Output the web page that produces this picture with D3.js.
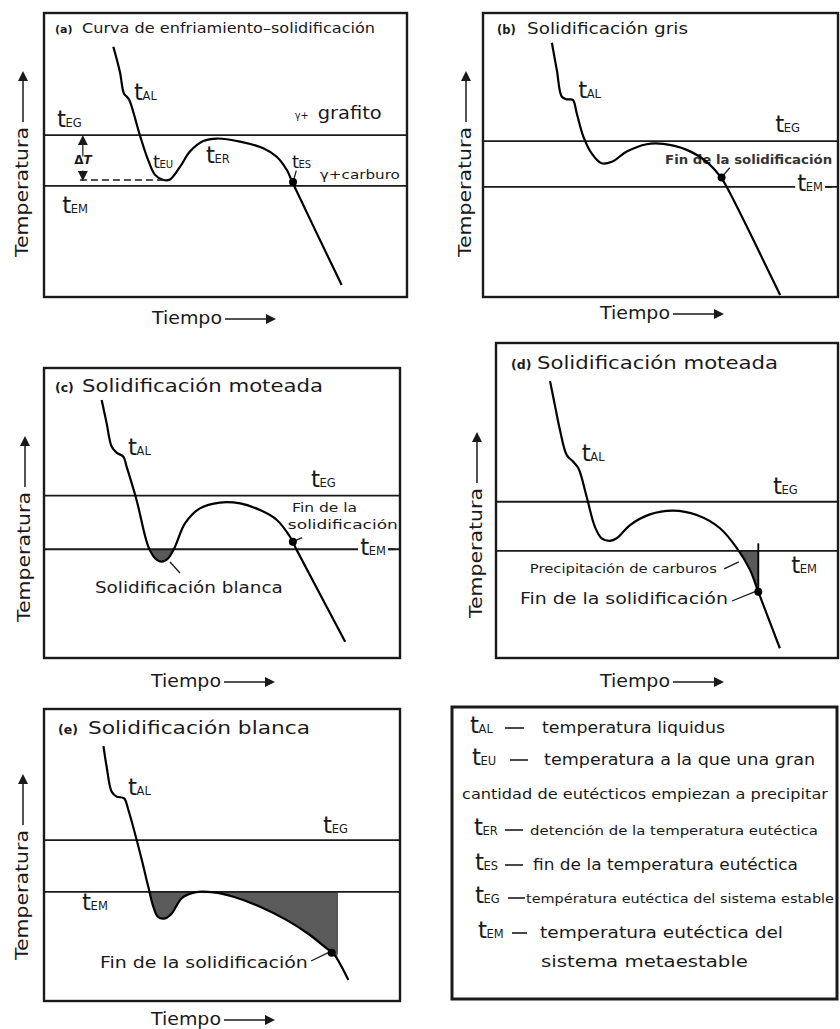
<!DOCTYPE html>
<html>
<head>
<meta charset="utf-8">
<script src="https://cdn.jsdelivr.net/npm/d3@7/dist/d3.min.js"></script>
<style>
body { margin: 0; background: #fff; }
svg { display: block; font-family: "DejaVu Sans", sans-serif; }
</style>
</head>
<body>
<svg id="chart" width="840" height="1029"></svg>
<script>
// cooling curves, [tiempo, temperatura] on a 0-100 scale per panel
const curveA = [[19.1,88.1],[20.9,79.3],[22.0,71.7],[22.8,70.5],[23.5,69.4],[26.4,57.0],[28.7,48.2],[30.6,43.0],
  [32.9,41.2],[34.7,41.4],[37.5,45.9],[40.2,51.2],[43.9,54.9],[47.6,55.8],[54.0,54.7],[60.4,52.4],
  [64.1,49.4],[66.9,44.7],[68.5,40.2],[82.0,4.2]];
const curveB = [[19.4,89.5],[20.8,79.9],[22.2,70.5],[23.6,69.6],[25.3,69.4],[26.4,64.7],[28.3,56.4],[30.6,50.6],
  [33.4,47.1],[36.3,47.6],[40.5,51.2],[46.1,53.8],[50.8,53.9],[57.4,51.8],[63.0,47.6],[67.2,41.8],
  [69.6,36.5],[83.7,0.7]];
const curveC = [[16.2,89.0],[17.6,80.9],[19.0,72.9],[20.4,70.8],[22.3,69.4],[23.2,66.0],[26.0,54.5],[29.3,38.4],
  [31.2,34.4],[33.1,33.2],[34.9,34.4],[36.8,38.4],[39.6,46.4],[43.8,51.6],[49.4,53.6],[55.1,53.3],
  [60.7,51.0],[65.4,47.6],[69.1,41.8],[71.0,37.2],[84.6,5.6]];
const curveD = [[15.8,87.9],[17.3,79.8],[18.7,72.4],[20.7,64.4],[22.6,62.3],[24.1,60.2],[26.5,51.2],[28.9,41.7],
  [30.9,38.0],[33.3,37.2],[35.3,38.0],[39.2,42.2],[45.0,45.6],[51.8,46.8],[58.7,45.4],[65.5,41.2],
  [70.8,34.3],[74.3,27.9],[76.7,21.0],[83.0,3.1]];
const curveE = [[16.7,87.3],[17.6,80.2],[19.0,71.7],[20.4,70.0],[22.5,69.4],[23.7,65.4],[27.0,50.6],[29.3,39.1],
  [30.7,32.3],[32.1,28.7],[34.0,28.3],[35.9,30.0],[38.7,35.2],[42.4,37.2],[47.6,37.2],[53.2,35.7],
  [60.7,32.3],[68.2,27.7],[74.7,22.6],[79.4,18.0],[81.3,16.3],[85.5,7.2]];

// eutectic levels per panel (a..e)
const levelEG = [57.0, 54.9, 56.0, 49.6, 55.1];
const levelEM = [39.1, 38.8, 37.5, 34.0, 37.4];
// end of solidification points
const endPoints = [[68.6,40.5],[67.2,42.1],[69.9,40.1],[76.7,21.0],[80.8,16.5]];
// shaded (white solidification / carbide) time ranges
const shadeRanges = [null, null, [28, 38], [68, 76.7], [28, 82.4]];

const panelLetters = ["(a)", "(b)", "(c)", "(d)", "(e)"];
const panelTitles = ["Curva de enfriamiento\u2013solidificación", "Solidificación gris",
  "Solidificación moteada", "Solidificación moteada", "Solidificación blanca"];

const legendSubs = ["AL", "EU", null, "ER", "ES", "EG", "EM", null];
const legendTexts = ["temperatura liquidus", "temperatura a la que una gran",
  "cantidad de eutécticos empiezan a precipitar", "detención de la temperatura eutéctica",
  "fin de la temperatura eutéctica", "températura eutéctica del sistema estable",
  "temperatura eutéctica del", "sistema metaestable"];

// ---- layout ----
const frames = [
  {x: 44, y: 13, w: 363, h: 284},
  {x: 483, y: 13, w: 355, h: 284},
  {x: 44, y: 368, w: 356, h: 290},
  {x: 496, y: 343, w: 342, h: 315},
  {x: 44, y: 709, w: 356, h: 292}
];
const titlePos = [
  {x: 55, y: 33, size: 13.5, lsize: 11, gap: 27, w: 293},
  {x: 497, y: 34, size: 15.5, lsize: 11.5, gap: 30, w: 161},
  {x: 55, y: 392, size: 18, lsize: 12.5, gap: 27, w: 241},
  {x: 511, y: 369, size: 18, lsize: 12.5, gap: 26, w: 241},
  {x: 58, y: 734, size: 18, lsize: 12.5, gap: 30, w: 222}
];
const tempPos = [{x: 28, y: 257}, {x: 471, y: 257}, {x: 30, y: 622}, {x: 482, y: 618}, {x: 28, y: 960}];
const timePos = [{x: 152, y: 324}, {x: 600, y: 319}, {x: 151, y: 687}, {x: 600, y: 687}, {x: 151, y: 1025}];

// annotations in data units
const notes = [
  [
    {t: "AL", x: 24.8, y: 69.4},
    {t: "EG", x: 3.6, y: 59.9},
    {t: "EM", x: 5.0, y: 29.6},
    {t: "EU", x: 30.0, y: 45.4, small: true},
    {t: "ER", x: 44.6, y: 47.2},
    {t: "ES", x: 68.3, y: 45.4, small: true},
    {text: "\u03b3+", x: 69.1, y: 62.6, size: 11, w: 14},
    {text: "grafito", x: 75.4, y: 62.6, size: 17, w: 64},
    {text: "\u03b3+carburo", x: 76.0, y: 41.5, size: 12.5, w: 80}
  ],
  [
    {t: "AL", x: 26.8, y: 70.1},
    {t: "EG", x: 82.3, y: 58.1},
    {t: "EM", x: 88.5, y: 37.3, bg: true},
    {text: "Fin de la solidificación", x: 51.3, y: 47.0, size: 11.5, w: 167, bold: true, under: true}
  ],
  [
    {t: "AL", x: 23.6, y: 69.9},
    {t: "EG", x: 75.0, y: 59.0},
    {t: "EM", x: 88.8, y: 35.5, bg: true},
    {text: "Fin de la", x: 69.7, y: 50.3, size: 12.5, w: 65},
    {text: "solidificación", x: 68.5, y: 44.6, size: 12.5, w: 110},
    {text: "Solidificación blanca", x: 14.3, y: 22.4, size: 15.5, w: 188}
  ],
  [
    {t: "AL", x: 25.1, y: 62.5},
    {t: "EG", x: 81.0, y: 52.1},
    {t: "EM", x: 86.3, y: 27.0},
    {text: "Precipitación de carburos", x: 9.9, y: 27.0, size: 12, w: 187},
    {text: "Fin de la solidificación", x: 7.0, y: 17.1, size: 16, w: 208}
  ],
  [
    {t: "AL", x: 23.6, y: 70.5},
    {t: "EG", x: 78.4, y: 57.5},
    {t: "EM", x: 10.7, y: 31.2},
    {text: "Fin de la solidificación", x: 15.7, y: 11.3, size: 16, w: 208}
  ]
];
const leaders = [
  [[[68.6, 40.5], [69.5, 44.5]]],
  [[[67.2, 42.1], [69.5, 45.5]]],
  [[[35.4, 33.1], [38.2, 29.3]], [[69.9, 40.1], [72.5, 41.5]]],
  [[[66.7, 28.3], [71.0, 30.5]], [[69.0, 18.1], [76.3, 21.3]]],
  [[[75.0, 13.7], [80.3, 16.8]]]
];

const curves = [curveA, curveB, curveC, curveD, curveE];
const svg = d3.select("#chart");
const ink = "#1a1a1a";

const defs = svg.append("defs");
defs.append("marker")
  .attr("id", "arrow")
  .attr("viewBox", "0 0 10 10")
  .attr("refX", 8).attr("refY", 5)
  .attr("markerWidth", 10).attr("markerHeight", 10)
  .attr("markerUnits", "userSpaceOnUse")
  .attr("orient", "auto")
  .append("path").attr("d", "M0,0L10,5L0,10Z").attr("fill", ink);

// "t" with subscript letters
function tLabel(g, x, y, sub, big, small) {
  const t = g.append("text").attr("x", x).attr("y", y).attr("fill", ink);
  t.append("tspan").attr("font-size", big).text("t");
  t.append("tspan").attr("font-size", small).attr("dx", -0.5).text(sub);
  return t;
}

function stretch(sel, w) {
  if (w) sel.attr("textLength", w).attr("lengthAdjust", "spacingAndGlyphs");
  return sel;
}

curves.forEach(function(data, i) {
  const f = frames[i];
  const x = d3.scaleLinear().domain([0, 100]).range([f.x, f.x + f.w]);
  const y = d3.scaleLinear().domain([0, 100]).range([f.y + f.h, f.y]);
  const g = svg.append("g");

  const line = d3.line()
    .curve(d3.curveCatmullRom.alpha(0.5))
    .x(d => x(d[0])).y(d => y(d[1]));

  // shading below tEM
  if (shadeRanges[i]) {
    const r = shadeRanges[i];
    const clipId = "clip" + i;
    defs.append("clipPath").attr("id", clipId)
      .append("rect")
      .attr("x", x(r[0])).attr("y", y(levelEM[i]))
      .attr("width", x(r[1]) - x(r[0])).attr("height", f.y + f.h - y(levelEM[i]));
    const area = d3.area()
      .curve(d3.curveCatmullRom.alpha(0.5))
      .x(d => x(d[0])).y0(y(levelEM[i])).y1(d => y(d[1]));
    g.append("path").datum(data)
      .attr("d", area)
      .attr("clip-path", "url(#" + clipId + ")")
      .attr("fill", "#5a5a5a");
  }

  // eutectic lines
  [levelEG[i], levelEM[i]].forEach(function(v) {
    g.append("line")
      .attr("x1", x(0)).attr("x2", x(100))
      .attr("y1", y(v)).attr("y2", y(v))
      .attr("stroke", ink).attr("stroke-width", 1.8);
  });

  // notes that sit under the curve
  notes[i].filter(n => n.under).forEach(function(n) {
    stretch(g.append("text")
      .attr("x", x(n.x)).attr("y", y(n.y))
      .attr("font-size", n.size)
      .attr("font-weight", n.bold ? "bold" : null)
      .attr("fill", "#333")
      .text(n.text), n.w);
  });

  // cooling curve
  g.append("path").datum(data)
    .attr("d", line)
    .attr("fill", "none")
    .attr("stroke", "#000").attr("stroke-width", 2.2)
    .attr("stroke-linejoin", "round");

  // vertical edge of the shaded region
  if (i === 3) {
    g.append("line")
      .attr("x1", x(76.7)).attr("x2", x(76.7))
      .attr("y1", y(36.4)).attr("y2", y(21.0))
      .attr("stroke", "#000").attr("stroke-width", 1.8);
  }
  if (i === 4) {
    g.append("line")
      .attr("x1", x(82.4)).attr("x2", x(82.4))
      .attr("y1", y(levelEM[i])).attr("y2", y(16.0))
      .attr("stroke", "#444").attr("stroke-width", 1);
  }

  // panel a: undercooling marker
  if (i === 0) {
    g.append("line")
      .attr("x1", x(9.9)).attr("x2", x(33))
      .attr("y1", y(41.2)).attr("y2", y(41.2))
      .attr("stroke", ink).attr("stroke-width", 1.6)
      .attr("stroke-dasharray", "7,4");
    g.append("line")
      .attr("x1", x(10.7)).attr("x2", x(10.7))
      .attr("y1", y(49.5)).attr("y2", y(levelEG[0]) + 2)
      .attr("stroke", ink).attr("stroke-width", 1.2)
      .attr("marker-end", "url(#arrow)");
    g.append("line")
      .attr("x1", x(10.7)).attr("x2", x(10.7))
      .attr("y1", y(44.5)).attr("y2", y(41.2) - 1)
      .attr("stroke", ink).attr("stroke-width", 1.2)
      .attr("marker-end", "url(#arrow)");
    g.append("text")
      .attr("x", x(8.3)).attr("y", y(46.8))
      .attr("font-size", 12).attr("font-weight", "bold")
      .attr("fill", ink)
      .html('\u0394<tspan font-style="italic">T</tspan>');
  }

  // leader lines
  leaders[i].forEach(function(l) {
    g.append("line")
      .attr("x1", x(l[0][0])).attr("y1", y(l[0][1]))
      .attr("x2", x(l[1][0])).attr("y2", y(l[1][1]))
      .attr("stroke", ink).attr("stroke-width", 1.3);
  });

  // end-of-solidification dot
  g.append("circle")
    .attr("cx", x(endPoints[i][0])).attr("cy", y(endPoints[i][1]))
    .attr("r", 4).attr("fill", "#000");

  // annotations
  notes[i].filter(n => !n.under).forEach(function(n) {
    if (n.t) {
      const big = n.small ? 18 : 23;
      const sm = n.small ? 10 : 11.5;
      const lab = tLabel(g, x(n.x), y(n.y), n.t, big, sm);
      if (n.bg) {
        const bb = lab.node().getBBox();
        g.insert("rect", "text")
          .attr("x", bb.x - 2).attr("y", y(levelEM[i]) - 3)
          .attr("width", bb.width + 4).attr("height", 6)
          .attr("fill", "#fff");
        g.append("line")
          .attr("x1", bb.x + bb.width + 3).attr("x2", bb.x + bb.width + 9)
          .attr("y1", y(levelEM[i])).attr("y2", y(levelEM[i]))
          .attr("stroke", ink).attr("stroke-width", 1.8);
      }
    } else {
      stretch(g.append("text")
        .attr("x", x(n.x)).attr("y", y(n.y))
        .attr("font-size", n.size)
        .attr("font-weight", n.bold ? "bold" : null)
        .attr("fill", ink)
        .text(n.text), n.w);
    }
  });

  // frame
  g.append("rect")
    .attr("x", f.x).attr("y", f.y).attr("width", f.w).attr("height", f.h)
    .attr("fill", "none").attr("stroke", ink).attr("stroke-width", 2.4);

  // title
  const tp = titlePos[i];
  g.append("text").attr("x", tp.x).attr("y", tp.y)
    .attr("font-size", tp.lsize).attr("font-weight", "bold").attr("fill", ink)
    .text(panelLetters[i]);
  stretch(g.append("text").attr("x", tp.x + tp.gap).attr("y", tp.y)
    .attr("font-size", tp.size).attr("fill", ink)
    .text(panelTitles[i]), tp.w);

  // axis labels with arrows
  const tpos = tempPos[i];
  const tl = stretch(g.append("text")
    .attr("transform", `translate(${tpos.x},${tpos.y}) rotate(-90)`)
    .attr("font-size", 17.5).attr("fill", ink)
    .text("Temperatura"), 130);
  g.append("line")
    .attr("x1", tpos.x - 5).attr("x2", tpos.x - 5)
    .attr("y1", tpos.y - 135).attr("y2", tpos.y - 184)
    .attr("stroke", ink).attr("stroke-width", 1.5)
    .attr("marker-end", "url(#arrow)");

  const hp = timePos[i];
  stretch(g.append("text")
    .attr("x", hp.x).attr("y", hp.y)
    .attr("font-size", 17.5).attr("fill", ink)
    .text("Tiempo"), 70);
  g.append("line")
    .attr("x1", hp.x + 73).attr("x2", hp.x + 122)
    .attr("y1", hp.y - 5).attr("y2", hp.y - 5)
    .attr("stroke", ink).attr("stroke-width", 1.5)
    .attr("marker-end", "url(#arrow)");
});

// ---- legend ----
const legendBox = {x: 452, y: 707, w: 385, h: 292};
const legendRows = [
  {sx: 470, y: 733, dash: [505, 524], tx: 542, size: 15.5, w: 183},
  {sx: 472, y: 765, dash: [510, 528], tx: 544, size: 15.5, w: 271},
  {sx: null, y: 799, tx: 462, size: 14, w: 366},
  {sx: 474, y: 835, dash: [505, 523], tx: 530, size: 13, w: 288},
  {sx: 475, y: 870, dash: [505, 523], tx: 533, size: 15.5, w: 265},
  {sx: 475, y: 903, dash: [508, 525], tx: 526, size: 13, w: 308},
  {sx: 478, y: 938, dash: [512, 527], tx: 540, size: 16.5, w: 243},
  {sx: null, y: 967, tx: 541, size: 16.5, w: 207}
];
const lg = svg.append("g");
lg.append("rect")
  .attr("x", legendBox.x).attr("y", legendBox.y)
  .attr("width", legendBox.w).attr("height", legendBox.h)
  .attr("fill", "none").attr("stroke", ink).attr("stroke-width", 3);

legendTexts.forEach(function(txt, k) {
  const r = legendRows[k];
  if (legendSubs[k]) {
    tLabel(lg, r.sx, r.y, legendSubs[k], 23, 11.5);
    lg.append("line")
      .attr("x1", r.dash[0]).attr("x2", r.dash[1])
      .attr("y1", r.y - 5).attr("y2", r.y - 5)
      .attr("stroke", ink).attr("stroke-width", 1.6);
  }
  stretch(lg.append("text")
    .attr("x", r.tx).attr("y", r.y)
    .attr("font-size", r.size).attr("fill", ink)
    .text(txt), r.w);
});
</script>
</body>
</html>
